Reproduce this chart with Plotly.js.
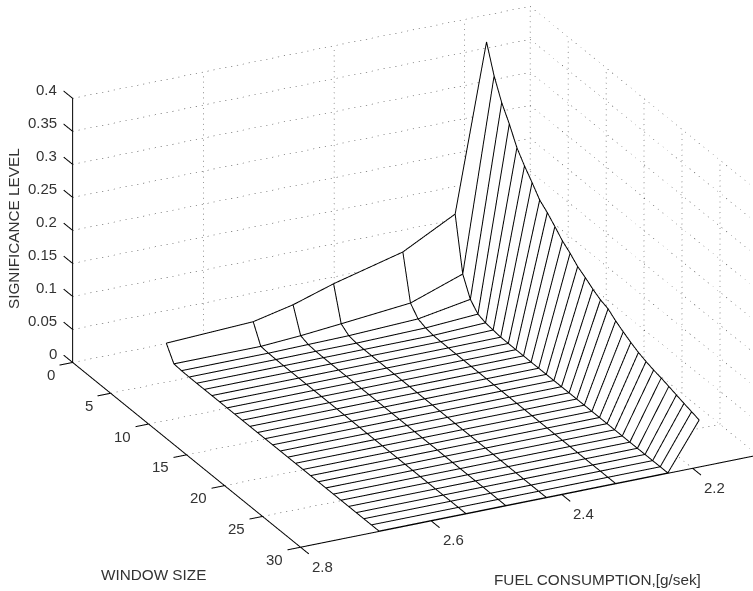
<!DOCTYPE html>
<html><head><meta charset="utf-8">
<script src="https://cdn.plot.ly/plotly-3.0.1.min.js"></script>
<style>html,body{margin:0;padding:0;background:#fff}#c{width:753px;height:591px}</style></head>
<body><div id="c"></div>
<script>
const fuel=[2.19,2.238,2.318,2.424,2.486,2.547,2.68];
const windowSize=[2,3,4,5,6,7,8,9,10,11,12,13,14,15,16,17,18,19,20,21,22,23,24,25,26,27,28,29,30];
const zFuel219=[.3826,.3405,.3094,.2864,.2598,.2415,.2256,.2086,.1988,.187,.1745,.1653,.1544,.1471,.1388,.132,.1277,.1188,.1115,.1047,.0989,.0945,.0909,.0882,.0847,.0811,.0777,.0744,.0712];
const zFuel2238=[.1315,.05,.021,.008,.004,.0025,.001,.0008,.0007,.0007,.0006,.0006,.0006,.0006,.0006,.0006,.0006,.0006,.0006,.0006,.0006,.0006,.0006,.0006,.0006,.0006,.0006,.0006,.0006];
const zFuel2318=[.09,.022,.0073,.003,.001,.0008,.0007,.0006,.0006,.0006,.0006,.0006,.0006,.0006,.0006,.0006,.0006,.0006,.0006,.0006,.0006,.0006,.0006,.0006,.0006,.0006,.0006,.0006,.0006];
const zFuel2424=[.063,.0117,.003,.001,.0008,.0007,.0006,.0006,.0006,.0006,.0006,.0006,.0006,.0006,.0006,.0006,.0006,.0006,.0006,.0006,.0006,.0006,.0006,.0006,.0006,.0006,.0006,.0006,.0006];
const zFuel2486=[.0435,.006,.002,.001,.0007,.0006,.0006,.0006,.0006,.0006,.0006,.0006,.0006,.0006,.0006,.0006,.0006,.0006,.0006,.0006,.0006,.0006,.0006,.0006,.0006,.0006,.0006,.0006,.0006];
const zFuel2547=[.03,.002,.001,.0007,.0006,.0006,.0006,.0006,.0006,.0006,.0006,.0006,.0006,.0006,.0006,.0006,.0006,.0006,.0006,.0006,.0006,.0006,.0006,.0006,.0006,.0006,.0006,.0006,.0006];
const zFuel268=[.024,.002,.001,.0007,.0006,.0006,.0006,.0006,.0006,.0006,.0006,.0006,.0006,.0006,.0006,.0006,.0006,.0006,.0006,.0006,.0006,.0006,.0006,.0006,.0006,.0006,.0006,.0006,.0006];
const fuelTicks=[2.2,2.4,2.6,2.8];
const fuelTickText=['2.2','2.4','2.6','2.8'];
const windowTicks=[0,5,10,15,20,25,30];
const levelTicks=[0,.05,.1,.15,.2,.25,.3,.35,.4];
const levelTickText=['0','0.05','0.1','0.15','0.2','0.25','0.3','0.35','0.4'];
const fuelLo=2.1,fuelHi=2.8,winLo=0,winHi=30,zLo=0,zHi=0.4;
const fuelTickEnd=31.1,winTickEnd=2.82,levelTickEnd=-1.2;

const columns=[zFuel219,zFuel2238,zFuel2318,zFuel2424,zFuel2486,zFuel2547,zFuel268];
const zMatrix=windowSize.map((w,i)=>columns.map(c=>c[i]));

function seg(){return {x:[],y:[],z:[],add(a,b){this.x.push(a[0],b[0],null);this.y.push(a[1],b[1],null);this.z.push(a[2],b[2],null);}};}

// Mesh lines sit a hair nearer the camera along the view direction, so the
// white surface cannot swallow them; in an orthographic view this moves no pixel.
const towardX=0.0033,towardY=0.284,towardZ=0.0033;
const mesh={x:[],y:[],z:[]};
function meshPt(f,w,z){mesh.x.push(f+towardX);mesh.y.push(w+towardY);mesh.z.push(z+towardZ);}
function meshBreak(){mesh.x.push(null);mesh.y.push(null);mesh.z.push(null);}
windowSize.forEach((w,i)=>{fuel.forEach((f,j)=>meshPt(f,w,zMatrix[i][j]));meshBreak();});
fuel.forEach((f,j)=>{windowSize.forEach((w,i)=>meshPt(f,w,zMatrix[i][j]));meshBreak();});

// dotted guide: a gridline broken into short dashes
const fuelSpan=0.7,winSpan=30,zSpan=0.4,dotRatio=0.2;
const grid=seg();
function dotted(a,b){
  const n=Math.max(Math.abs(a[0]-b[0])/fuelSpan*78,Math.abs(a[1]-b[1])/winSpan*50,Math.abs(a[2]-b[2])/zSpan*50);
  for(let k=0;k<n;k++){
    const t=k/n,u=(k+dotRatio)/n;
    grid.add([0,1,2].map(d=>a[d]+(b[d]-a[d])*t),[0,1,2].map(d=>a[d]+(b[d]-a[d])*u));
  }
}
levelTicks.forEach(z=>{dotted([fuelHi,winLo,z],[fuelLo,winLo,z]);dotted([fuelLo,winLo,z],[fuelLo,winHi,z]);});
[2.2,2.4,2.6].forEach(f=>{dotted([f,winLo,zLo],[f,winLo,zHi]);dotted([f,winLo,zLo],[f,winHi,zLo]);});
dotted([fuelLo,winLo,zLo],[fuelLo,winLo,zHi]);
windowTicks.slice(1).forEach(w=>{dotted([fuelLo,w,zLo],[fuelLo,w,zHi]);if(w<winHi)dotted([fuelHi,w,zLo],[fuelLo,w,zLo]);});

const ax=seg();
ax.add([fuelHi,winLo,zLo],[fuelHi,winLo,zHi]);
ax.add([fuelHi,winLo,zLo],[fuelHi,winHi,zLo]);
ax.add([fuelHi,winHi,zLo],[fuelLo,winHi,zLo]);
levelTicks.forEach(z=>ax.add([fuelHi,winLo,z],[fuelHi,levelTickEnd,z]));
windowTicks.forEach(w=>ax.add([fuelHi,w,zLo],[winTickEnd,w,zLo]));
fuelTicks.forEach(f=>ax.add([f,winHi,zLo],[f,fuelTickEnd,zLo]));

const tickFont={family:'Liberation Sans',size:15,color:'#333'};
const anns=[];
levelTicks.forEach((z,i)=>anns.push({x:fuelHi,y:winLo,z:z,text:levelTickText[i],showarrow:false,xanchor:'right',yanchor:'middle',xshift:-14,yshift:9,font:tickFont}));
windowTicks.forEach(w=>anns.push({x:fuelHi,y:w,z:zLo,text:String(w),showarrow:false,xanchor:'right',yanchor:'middle',xshift:-16,yshift:-12,font:tickFont}));
fuelTicks.forEach((f,i)=>anns.push({x:f,y:winHi,z:zLo,text:fuelTickText[i],showarrow:false,xanchor:'center',yanchor:'middle',xshift:22,yshift:-19,font:tickFont}));

const hidden={showgrid:false,zeroline:false,showline:false,showticklabels:false,ticks:'',showbackground:false,showspikes:false,title:{text:''}};
const data=[
 {type:'surface',x:fuel,y:windowSize,z:zMatrix,showscale:false,colorscale:[[0,'#fff'],[1,'#fff']],lighting:{ambient:1,diffuse:0,specular:0,fresnel:0,roughness:1},hoverinfo:'skip'},
 {type:'scatter3d',mode:'lines',x:grid.x,y:grid.y,z:grid.z,line:{color:'#333',width:1},hoverinfo:'skip',showlegend:false},
 {type:'scatter3d',mode:'lines',x:ax.x,y:ax.y,z:ax.z,line:{color:'#000',width:2},hoverinfo:'skip',showlegend:false},
 {type:'scatter3d',mode:'lines',x:mesh.x,y:mesh.y,z:mesh.z,line:{color:'#000',width:2},hoverinfo:'skip',showlegend:false}
];
const titleFont={family:'Liberation Sans',size:15.3,color:'#333'};
const layout={width:753,height:591,margin:{l:0,r:0,t:0,b:0},showlegend:false,paper_bgcolor:'#fff',
 annotations:[
  {xref:'paper',yref:'paper',x:153/753,y:1-574/591,xanchor:'center',yanchor:'middle',text:'WINDOW SIZE',showarrow:false,font:titleFont},
  {xref:'paper',yref:'paper',x:597/753,y:1-579/591,xanchor:'center',yanchor:'middle',text:'FUEL CONSUMPTION,[g/sek]',showarrow:false,font:titleFont},
  {xref:'paper',yref:'paper',x:13/753,y:1-229/591,xanchor:'center',yanchor:'middle',text:'SIGNIFICANCE LEVEL',showarrow:false,textangle:-90,font:titleFont}
 ],
 scene:{domain:{x:[0,1],y:[0,1]},
  xaxis:Object.assign({range:[fuelLo,winTickEnd]},hidden),
  yaxis:Object.assign({range:[levelTickEnd,fuelTickEnd]},hidden),
  zaxis:Object.assign({range:[zLo,zHi]},hidden),
  aspectmode:'manual',aspectratio:{x:1.779,y:1.862,z:0.977},
  camera:{projection:{type:'orthographic'},up:{x:0,y:0,z:1},center:{x:0.1075,y:-0.0265,z:-0.0549},eye:{x:1.7395,y:3.2495,z:1.5611}},
  annotations:anns}};
Plotly.newPlot('c',data,layout,{displayModeBar:false});
</script></body></html>
